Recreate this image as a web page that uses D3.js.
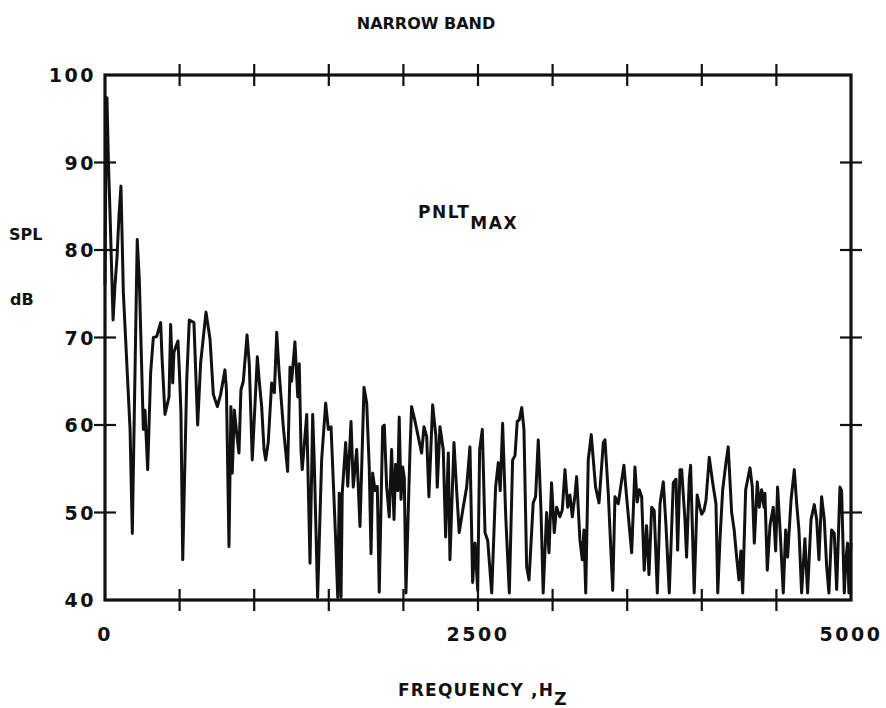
<!DOCTYPE html>
<html>
<head>
<meta charset="utf-8">
<script src="https://cdn.jsdelivr.net/npm/d3@7"></script>
<style>
  body { margin: 0; background: #fff; }
  svg { display: block; }
  text { font-family: "DejaVu Sans", "Liberation Sans", Arial, sans-serif; font-weight: bold; fill: #111; }
</style>
</head>
<body>
<svg id="chart"></svg>
<script>
'use strict';

//narrow band spectrum at PNLT max
const freq = [0, 7, 13, 23, 34, 54, 67, 80, 94, 107, 123, 168, 183, 216, 230, 257, 268, 286, 306, 324,
  346, 373, 382, 402, 429, 440, 454, 462, 476, 489, 499, 509, 521, 548, 565, 596, 621, 641, 677, 704,
  726, 753, 775, 804, 814, 831, 844, 853, 867, 883, 898, 911, 927, 952, 967, 987, 1021, 1034, 1050, 1066,
  1077, 1094, 1117, 1135, 1151, 1166, 1195, 1224, 1240, 1251, 1273, 1292, 1302, 1314, 1322, 1352, 1374, 1392, 1403, 1425,
  1452, 1479, 1497, 1515, 1546, 1560, 1570, 1582, 1590, 1613, 1627, 1649, 1664, 1687, 1709, 1736, 1754, 1771, 1783, 1794,
  1810, 1825, 1838, 1861, 1872, 1888, 1905, 1921, 1937, 1948, 1962, 1972, 1984, 1995, 2006, 2017, 2044, 2055, 2077, 2099,
  2122, 2138, 2156, 2171, 2196, 2218, 2227, 2245, 2267, 2283, 2301, 2312, 2339, 2357, 2374, 2401, 2424, 2446, 2464, 2480,
  2498, 2511, 2529, 2547, 2565, 2592, 2618, 2636, 2649, 2665, 2686, 2710, 2732, 2748, 2763, 2777, 2793, 2808, 2826, 2842,
  2870, 2886, 2904, 2922, 2937, 2960, 2976, 2993, 3011, 3027, 3049, 3065, 3083, 3101, 3116, 3132, 3150, 3161, 3183, 3199,
  3210, 3222, 3239, 3259, 3288, 3311, 3340, 3351, 3373, 3403, 3418, 3440, 3478, 3496, 3530, 3552, 3567, 3581, 3597, 3614,
  3630, 3646, 3664, 3681, 3702, 3720, 3742, 3760, 3782, 3809, 3827, 3838, 3854, 3865, 3887, 3898, 3916, 3925, 3949, 3969,
  3987, 3999, 4014, 4028, 4050, 4073, 4095, 4107, 4122, 4140, 4162, 4177, 4200, 4217, 4233, 4249, 4262, 4274, 4294, 4323,
  4338, 4352, 4372, 4385, 4401, 4417, 4423, 4439, 4457, 4479, 4495, 4508, 4524, 4546, 4562, 4575, 4598, 4620, 4636, 4651,
  4669, 4691, 4709, 4732, 4754, 4770, 4785, 4803, 4821, 4837, 4852, 4870, 4888, 4904, 4926, 4937, 4955, 4966, 4977, 4986,
  5000];
const spl = [76, 93, 97.4, 90, 84, 72, 76, 79, 84, 87.3, 75.1, 59.5, 47.6, 81.2, 76.6, 59.5, 61.7, 54.9, 66, 70,
  70.1, 71.7, 67.8, 61.2, 63.2, 71.5, 64.8, 68.3, 69, 69.6, 66, 61.4, 44.6, 65.2, 72, 71.7, 60, 67.1, 72.9, 69.8,
  63.5, 62.1, 63.5, 66.3, 64, 46.1, 62.1, 54.5, 61.7, 59, 56.8, 64, 65, 70.3, 67, 56, 67.8, 65, 62.1, 57.2,
  56, 58, 64.8, 63.7, 70.6, 66.3, 59.8, 54.7, 66.6, 65, 69.5, 63.2, 67, 57, 54.9, 61.2, 44.2, 61.2, 55.5, 40.3,
  56, 62.5, 59.5, 59.8, 46.9, 40.3, 52.2, 40.3, 52.2, 58, 53, 60.4, 52.9, 57.2, 48.4, 64.3, 62.5, 55.2, 45.3, 54.5,
  52.5, 53, 40.9, 59.8, 60, 52.9, 49.5, 57.2, 49.2, 55.5, 52.5, 60.9, 51.5, 55.2, 54, 40.8, 57, 62.1, 60.5, 58.7,
  56.8, 59.8, 58.7, 51.8, 62.3, 58.7, 52.9, 59.8, 57.2, 47.2, 56.8, 44.6, 58, 52.5, 47.7, 50.6, 52.9, 57.5, 42, 46.5,
  41.1, 57.2, 59.5, 47.7, 46.8, 40.8, 52.9, 55.7, 52.5, 60.2, 49.5, 40.8, 56, 56.5, 60.4, 60.6, 62, 59.5, 43.8, 42.3,
  51.1, 51.8, 58.3, 50.3, 40.8, 50, 45.4, 53.4, 47.7, 50.6, 49.5, 50.3, 54.9, 50.6, 52, 49.5, 52, 54.1, 46.9, 44.6,
  48, 40.8, 56, 58.9, 52.9, 51.1, 58, 58.3, 52.2, 41.1, 51.8, 51, 55.4, 51.8, 45.4, 55.2, 51.2, 52.6, 51.8, 43.4,
  48.5, 42.9, 50.6, 50.2, 40.8, 51, 53.5, 48.5, 40.8, 53.4, 53.8, 45.7, 54.9, 54.9, 49.2, 44.9, 53.8, 55.4, 40.8, 52,
  50.6, 49.8, 50.2, 51.4, 56.3, 53.4, 51, 40.8, 47, 52.6, 55.7, 57.5, 50, 48, 45, 42.3, 45.6, 40.8, 52.6, 55.1,
  53, 46.5, 53.5, 50.6, 52.6, 50.6, 52.2, 43.4, 48.5, 50.6, 45.6, 52.9, 48.2, 40.8, 48, 44.9, 51.4, 54.9, 51, 48,
  40.8, 47, 40.8, 49.2, 50.9, 49.2, 44.6, 51.8, 49.2, 43.8, 40.8, 48, 47.6, 41.2, 52.9, 52.5, 40.8, 44.6, 46.5, 40.8,
  46.5];

//axis ticks
const xTicks = d3.range(0, 5001, 500);
const xLabels = [0, 2500, 5000];
const yTicks = d3.range(40, 101, 10);

//dimensions
const W = 886;
const H = 708;
const m = { left: 105, right: 35, top: 75, bottom: 108 };

const svg = d3.select('#chart')
  .attr('width', W)
  .attr('height', H);

const x = d3.scaleLinear().domain([0, 5000]).range([m.left, W - m.right]);
const y = d3.scaleLinear().domain([40, 100]).range([H - m.bottom, m.top]);

const ink = '#111';
const tickLen = 11;

//frame
svg.append('rect')
  .attr('x', x(0))
  .attr('y', y(100))
  .attr('width', x(5000) - x(0))
  .attr('height', y(40) - y(100))
  .attr('fill', 'none')
  .attr('stroke', ink)
  .attr('stroke-width', 3.2);

//ticks crossing the frame on all four sides
function drawTicks(vals, dir) {
  vals.forEach((v) => {
    if (dir === 'x') {
      [y(100), y(40)].forEach((yy) => {
        svg.append('line')
          .attr('x1', x(v)).attr('x2', x(v))
          .attr('y1', yy - tickLen).attr('y2', yy + tickLen)
          .attr('stroke', ink).attr('stroke-width', 2.2);
      });
    } else {
      [x(0), x(5000)].forEach((xx) => {
        svg.append('line')
          .attr('x1', xx - tickLen).attr('x2', xx + tickLen)
          .attr('y1', y(v)).attr('y2', y(v))
          .attr('stroke', ink).attr('stroke-width', 2.2);
      });
    }
  });
}
drawTicks(xTicks.filter((d) => d > 0 && d < 5000), 'x');
drawTicks(yTicks.filter((d) => d > 40 && d < 100), 'y');

//tick labels
svg.selectAll('.ylab')
  .data(yTicks)
  .enter().append('text')
  .attr('class', 'ylab')
  .attr('x', x(0) - 9)
  .attr('y', (d) => y(d))
  .attr('dy', '0.37em')
  .attr('text-anchor', 'end')
  .attr('font-size', 19)
  .attr('letter-spacing', 2.5)
  .text((d) => d);

svg.selectAll('.xlab')
  .data(xLabels)
  .enter().append('text')
  .attr('class', 'xlab')
  .attr('x', (d) => x(d))
  .attr('y', y(40) + 41)
  .attr('text-anchor', 'middle')
  .attr('font-size', 19)
  .attr('letter-spacing', 2.5)
  .text((d) => d);

//spectrum
const pts = freq.map((f, i) => [f, spl[i]]);
const line = d3.line()
  .x((d) => x(d[0]))
  .y((d) => y(Math.max(40, d[1])));

svg.append('path')
  .datum(pts)
  .attr('d', line)
  .attr('fill', 'none')
  .attr('stroke', ink)
  .attr('stroke-width', 3)
  .attr('stroke-linejoin', 'round');

//titles
svg.append('text')
  .attr('x', 426)
  .attr('y', 29)
  .attr('text-anchor', 'middle')
  .attr('font-size', 16)
  .text('NARROW BAND');

svg.append('text').attr('x', 9).attr('y', 240).attr('font-size', 16).text('SPL');
svg.append('text').attr('x', 10).attr('y', 305).attr('font-size', 16).text('dB');

const pn = svg.append('text').attr('x', 418).attr('y', 218)
  .attr('font-size', 17).attr('letter-spacing', 1.5);
pn.append('tspan').text('PNLT');
pn.append('tspan').attr('dy', 11).text('MAX');

const fq = svg.append('text').attr('x', 398).attr('y', 696)
  .attr('font-size', 17).attr('letter-spacing', 1.2);
fq.append('tspan').text('FREQUENCY ,H');
fq.append('tspan').attr('dy', 9).text('Z');
</script>
</body>
</html>
